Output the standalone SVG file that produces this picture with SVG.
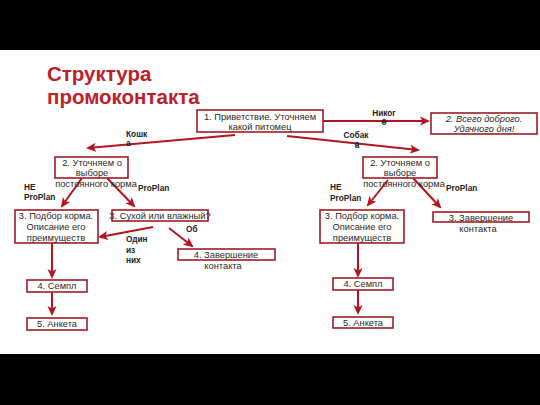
<svg xmlns="http://www.w3.org/2000/svg" width="540" height="405" viewBox="0 0 540 405">
<defs>
<marker id="ah" markerWidth="10" markerHeight="10" refX="8" refY="5" orient="auto" markerUnits="userSpaceOnUse" viewBox="0 0 10 10">
<path d="M0,0.5 L10,5 L0,9.5 L2.5,5 Z" fill="#b3141d"/>
</marker>
<style>
.box{fill:#fff;stroke:#9e1c23;stroke-width:1.6}
.t{font-family:"Liberation Sans",Arial,sans-serif;font-size:9.3px;fill:#2a2a2a;text-anchor:middle}
.it{font-style:italic}
.lb{font-family:"Liberation Sans",Arial,sans-serif;font-size:8.3px;font-weight:bold;fill:#222}
.ln{stroke:#b3141d;stroke-width:2;fill:none;marker-end:url(#ah)}
</style>
</defs>
<rect x="0" y="0" width="540" height="405" fill="#000"/>
<rect x="0" y="50" width="540" height="304" fill="#fff"/>
<g id="title">
<text x="47" y="81" font-family="Liberation Sans,Arial,sans-serif" font-size="20.5" font-weight="bold" fill="#bd2129">Структура</text>
<text x="47" y="104" font-family="Liberation Sans,Arial,sans-serif" font-size="20.5" font-weight="bold" fill="#bd2129">промоконтакта</text>
</g>
<g id="connectors">
<line class="ln" x1="323" y1="121" x2="428" y2="121"/>
<circle cx="384" cy="121" r="1.8" fill="none" stroke="#333" stroke-width="1"/>
<line class="ln" x1="287" y1="136" x2="418" y2="150"/>
<circle cx="357" cy="144" r="1.8" fill="none" stroke="#333" stroke-width="1"/>
<line class="ln" x1="235" y1="135" x2="88" y2="148"/>
<line class="ln" x1="82" y1="178" x2="62" y2="206"/>
<line class="ln" x1="107" y1="178" x2="134" y2="206"/>
<line class="ln" x1="153" y1="227" x2="100" y2="237"/>
<line class="ln" x1="169" y1="228" x2="192" y2="246"/>
<line class="ln" x1="52" y1="243" x2="52" y2="277"/>
<line class="ln" x1="52" y1="292" x2="52" y2="314"/>
<line class="ln" x1="388" y1="180" x2="368" y2="205"/>
<line class="ln" x1="413" y1="178" x2="440" y2="207"/>
<line class="ln" x1="358" y1="243" x2="358" y2="276"/>
<line class="ln" x1="358" y1="290" x2="358" y2="313"/>
</g>
<g id="labels">
<text class="lb" x="384" y="116" text-anchor="middle">Никог</text>
<text class="lb" x="384" y="125" text-anchor="middle">о</text>
<text class="lb" x="356" y="138" text-anchor="middle">Собак</text>
<text class="lb" x="357" y="148" text-anchor="middle">а</text>
<text class="lb" x="126" y="137">Кошк</text>
<text class="lb" x="126" y="146">а</text>
<text class="lb" x="24" y="190">НЕ</text>
<text class="lb" x="24" y="200" font-size="7.5">ProPlan</text>
<text class="lb" x="138" y="191" font-size="7.5">ProPlan</text>
<text class="lb" x="330" y="190">НЕ</text>
<text class="lb" x="330" y="201" font-size="7.5">ProPlan</text>
<text class="lb" x="446" y="191" font-size="7.5">ProPlan</text>
<text class="lb" x="126" y="242">Один</text>
<text class="lb" x="126" y="253">из</text>
<text class="lb" x="126" y="263">них</text>
<text class="lb" x="186" y="232">Об</text>
</g>
<g id="n1">
<rect class="box" x="197" y="110" width="126" height="22"/>
<text class="t" x="260" y="119.5">1. Приветствие. Уточняем</text>
<text class="t" x="260" y="129.5">какой питомец</text>
</g>
<g id="n2bye">
<rect class="box" x="431" y="113" width="106" height="21"/>
<text class="t it" x="484" y="122">2. Всего доброго.</text>
<text class="t it" x="484" y="132">Удачного дня!</text>
</g>
<g id="n2left">
<rect class="box" x="55" y="157" width="73" height="21"/>
<text class="t" x="92" y="166">2. Уточняем о</text>
<text class="t" x="92" y="176">выборе</text>
<text class="t" x="96" y="187">постоянного корма</text>
</g>
<g id="n3left">
<rect class="box" x="15" y="210" width="83" height="33"/>
<text class="t" x="56" y="219">3. Подбор корма.</text>
<text class="t" x="56" y="230">Описание его</text>
<text class="t" x="56" y="241">преимуществ</text>
</g>
<g id="n3dry">
<rect class="box" x="112" y="210" width="96" height="11"/>
<text class="t" x="160" y="219">3. Сухой или влажный?</text>
</g>
<g id="n4end">
<rect class="box" x="178" y="249" width="97" height="11"/>
<text class="t" x="226" y="258">4. Завершение</text>
<text class="t" x="223" y="269">контакта</text>
</g>
<g id="n4left">
<rect class="box" x="27" y="280" width="60" height="12"/>
<text class="t" x="57" y="289">4. Семпл</text>
</g>
<g id="n5left">
<rect class="box" x="27" y="318" width="60" height="12"/>
<text class="t" x="57" y="327">5. Анкета</text>
</g>
<g id="n2right">
<rect class="box" x="363" y="157" width="74" height="21"/>
<text class="t" x="400" y="166">2. Уточняем о</text>
<text class="t" x="400" y="176">выборе</text>
<text class="t" x="404" y="187">постоянного корма</text>
</g>
<g id="n3right">
<rect class="box" x="320" y="210" width="84" height="33"/>
<text class="t" x="362" y="219">3. Подбор корма.</text>
<text class="t" x="362" y="230">Описание его</text>
<text class="t" x="362" y="241">преимуществ</text>
</g>
<g id="n3endright">
<rect class="box" x="433" y="212" width="96" height="10"/>
<text class="t" x="481" y="220.5">3. Завершение</text>
<text class="t" x="478" y="232">контакта</text>
</g>
<g id="n4right">
<rect class="box" x="333" y="278" width="60" height="12"/>
<text class="t" x="363" y="287">4. Семпл</text>
</g>
<g id="n5right">
<rect class="box" x="333" y="317" width="60" height="11"/>
<text class="t" x="363" y="325.5">5. Анкета</text>
</g>
</svg>
